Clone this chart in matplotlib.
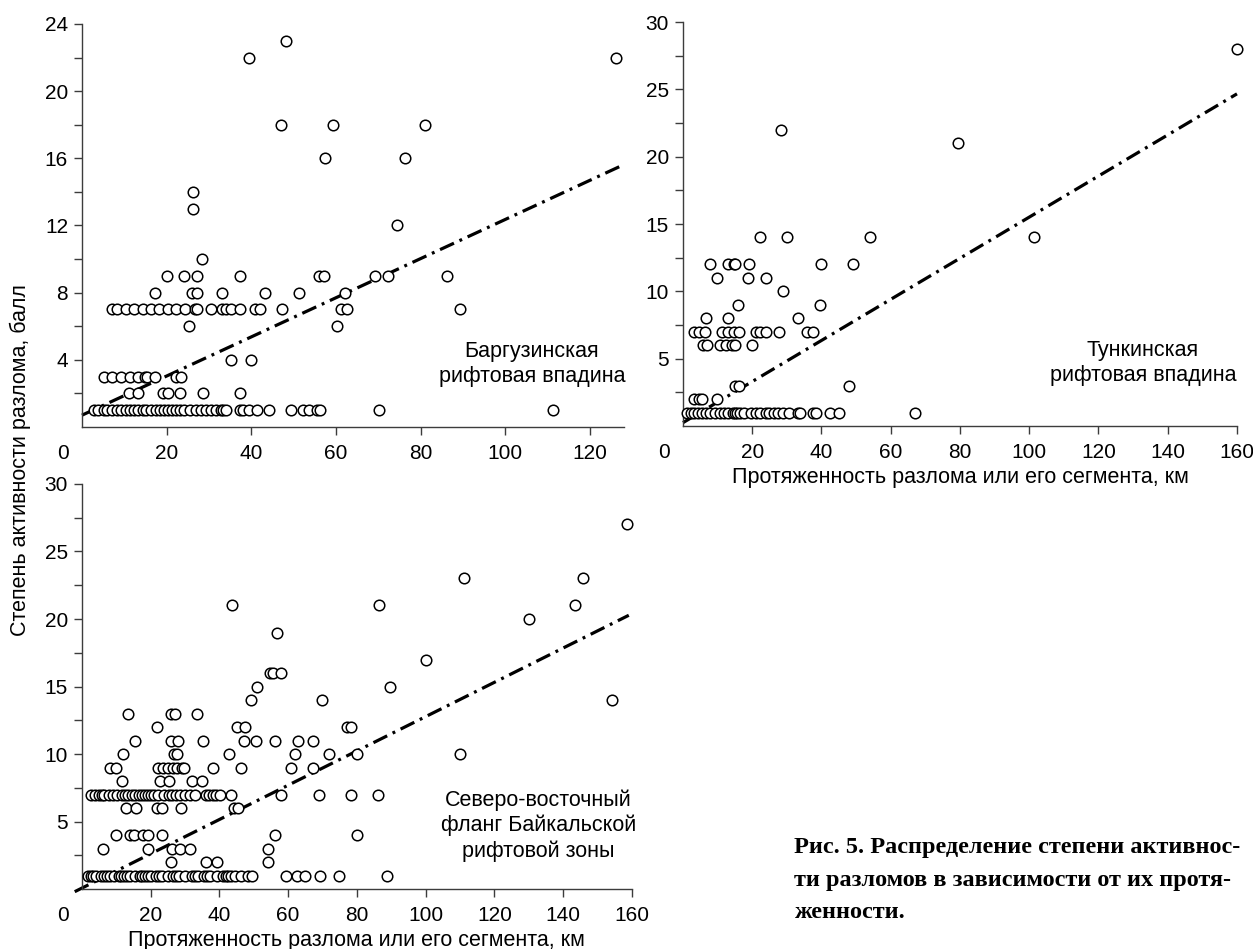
import matplotlib
matplotlib.use("Agg")
import matplotlib.pyplot as plt
from matplotlib.ticker import FixedLocator

plt.rcParams['font.family'] = ['Liberation Sans', 'DejaVu Sans']

# Баргузинская рифтовая впадина: length (km) / activity score
barg_len = [2.8, 3.9, 5.1, 6.0, 7.2, 8.2, 9.3, 10.4, 11.3, 12.3, 13.3, 14.3, 15.2, 16.4, 17.4,
            18.5, 19.3, 20.3, 21.2, 22.1, 23.1, 24.0, 25.4, 27.0, 28.1, 29.2, 30.4, 31.7, 32.8,
            33.3, 34.1, 37.3, 38.0, 39.4, 41.4, 44.1, 49.3, 52.3, 53.6, 55.6, 56.3, 70.2, 111.2,
            11.1, 13.3, 19.2, 20.3, 23.1, 28.5, 37.3,
            5.2, 7.2, 9.3, 11.4, 13.3, 14.8, 15.4, 17.3, 22.1, 23.3,
            35.2, 39.9,
            25.2, 60.2,
            7.2, 8.2, 10.4, 12.3, 14.3, 16.4, 18.2, 20.3, 22.1, 24.3, 26.6, 27.2, 30.4, 33.1,
            33.9, 35.2, 37.3, 40.9, 42.0, 47.2, 61.2, 62.6, 89.2,
            17.3, 26.1, 27.2, 33.1, 43.3, 51.3, 62.2,
            20.2, 24.1, 27.2, 37.3, 55.9, 57.2, 69.3, 72.2, 86.3,
            28.3, 74.3, 26.3, 26.3, 57.5, 76.3, 47.0, 59.3, 81.0, 39.4, 126.0, 48.3]
barg_act = [1, 1, 1, 1, 1, 1, 1, 1, 1, 1, 1, 1, 1, 1, 1,
            1, 1, 1, 1, 1, 1, 1, 1, 1, 1, 1, 1, 1, 1,
            1, 1, 1, 1, 1, 1, 1, 1, 1, 1, 1, 1, 1, 1,
            2, 2, 2, 2, 2, 2, 2,
            3, 3, 3, 3, 3, 3, 3, 3, 3, 3,
            4, 4,
            6, 6,
            7, 7, 7, 7, 7, 7, 7, 7, 7, 7, 7, 7, 7, 7,
            7, 7, 7, 7, 7, 7, 7, 7, 7,
            8, 8, 8, 8, 8, 8, 8,
            9, 9, 9, 9, 9, 9, 9, 9, 9,
            10, 12, 13, 14, 16, 16, 18, 18, 18, 22, 22, 23]
barg_fit = [0.7, 0.1166]   # intercept, slope
barg_fit_x = [0, 127.8]

# Тункинская рифтовая впадина
tunk_len = [1.1, 2.2, 3.3, 4.4, 5.5, 6.6, 7.9, 9.2, 10.7, 11.8, 12.9, 14.3, 15.0, 15.7, 16.6,
            17.7, 19.5, 21.0, 22.2, 24.0, 24.8, 26.2, 27.3, 28.9, 30.6, 33.1, 33.9, 37.5, 38.3,
            42.5, 45.0, 66.9,
            3.2, 4.6, 5.5, 9.8,
            15.1, 16.2, 48.0,
            5.7, 6.8, 10.7, 12.4, 14.1, 15.1, 19.8,
            3.2, 4.6, 6.3, 11.3, 12.9, 14.6, 16.2, 21.0, 22.3, 24.0, 27.8, 35.9, 37.5,
            6.5, 13.0, 33.1,
            15.9, 39.7,
            28.9,
            9.8, 18.9, 24.1,
            7.7, 12.9, 14.6, 15.1, 19.0, 40.0, 49.2,
            22.1, 30.0, 53.9, 101.4,
            79.4, 28.3, 160.0]
tunk_act = [1, 1, 1, 1, 1, 1, 1, 1, 1, 1, 1, 1, 1, 1, 1,
            1, 1, 1, 1, 1, 1, 1, 1, 1, 1, 1, 1, 1, 1,
            1, 1, 1,
            2, 2, 2, 2,
            3, 3, 3,
            6, 6, 6, 6, 6, 6, 6,
            7, 7, 7, 7, 7, 7, 7, 7, 7, 7, 7, 7, 7,
            8, 8, 8,
            9, 9,
            10,
            11, 11, 11,
            12, 12, 12, 12, 12, 12, 12,
            14, 14, 14, 14,
            21, 22, 28]
tunk_fit = [0.25, 0.1526]
tunk_fit_x = [0, 160]

# Северо-восточный фланг Байкальской рифтовой зоны
ne_len = [1.8, 2.5, 3.1, 4.0, 5.5, 6.3, 7.4, 8.3, 9.2, 10.7, 11.5, 12.3, 13.2, 14.1, 15.3,
          16.8, 17.6, 18.4, 19.2, 20.0, 21.5, 22.4, 23.3, 24.9, 26.6, 27.4, 28.2, 30.1, 31.9,
          32.8, 33.7, 35.6, 36.4, 37.2, 39.3, 40.9, 41.8, 42.6, 43.5, 44.5, 46.3, 48.2, 49.4,
          59.5, 62.7, 65.0, 69.3, 74.8, 88.7,
          25.8, 36.2, 39.3, 54.2,
          6.1, 19.3, 26.1, 28.6, 31.3, 54.2,
          9.8, 13.9, 15.1, 17.8, 19.3, 23.3, 56.2, 80.0,
          12.9, 15.6, 21.7, 23.3, 28.8, 44.2, 45.4,
          2.5, 3.7, 4.9, 5.7, 6.5, 8.0, 9.0, 10.2, 11.7, 12.5, 13.3, 14.7, 15.5, 16.6, 17.5,
          18.4, 19.2, 20.0, 21.0, 22.1, 23.9, 25.2, 26.2, 27.4, 28.5, 30.1, 31.5, 32.8, 36.2,
          37.0, 38.0, 39.0, 40.1, 43.3, 58.0, 69.1, 78.4, 86.0,
          11.7, 22.7, 25.2, 31.9, 35.0,
          8.2, 9.9, 22.1, 23.6, 24.9, 26.4, 27.6, 29.1, 29.7, 38.0, 46.3, 60.7, 67.2,
          11.9, 26.7, 27.6, 42.9, 62.0, 71.8, 80.1, 110.1,
          15.3, 25.8, 27.9, 35.3, 47.2, 50.6, 56.1, 62.9, 67.1,
          21.8, 45.0, 47.5, 77.1, 78.3,
          13.5, 25.8, 27.0, 33.5,
          49.1, 69.9, 154.2,
          50.9, 89.6,
          54.6, 55.6, 57.8,
          100.2, 56.7, 130.1,
          43.8, 86.5, 143.4,
          111.3, 145.9, 158.5]
ne_act = [1, 1, 1, 1, 1, 1, 1, 1, 1, 1, 1, 1, 1, 1, 1,
          1, 1, 1, 1, 1, 1, 1, 1, 1, 1, 1, 1, 1, 1,
          1, 1, 1, 1, 1, 1, 1, 1, 1, 1, 1, 1, 1, 1,
          1, 1, 1, 1, 1, 1,
          2, 2, 2, 2,
          3, 3, 3, 3, 3, 3,
          4, 4, 4, 4, 4, 4, 4, 4,
          6, 6, 6, 6, 6, 6, 6,
          7, 7, 7, 7, 7, 7, 7, 7, 7, 7, 7, 7, 7, 7, 7,
          7, 7, 7, 7, 7, 7, 7, 7, 7, 7, 7, 7, 7, 7,
          7, 7, 7, 7, 7, 7, 7, 7, 7,
          8, 8, 8, 8, 8,
          9, 9, 9, 9, 9, 9, 9, 9, 9, 9, 9, 9, 9,
          10, 10, 10, 10, 10, 10, 10, 10,
          11, 11, 11, 11, 11, 11, 11, 11, 11,
          12, 12, 12, 12, 12,
          13, 13, 13, 13,
          14, 14, 14,
          15, 15,
          16, 16, 16,
          17, 19, 20,
          21, 21, 21,
          23, 23, 27]
ne_fit = [0.07, 0.127]
ne_fit_x = [-2.1, 159.1]

xlabel = 'Протяженность разлома или его сегмента, км'
ylabel = 'Степень активности разлома, балл'
caption = ('Рис. 5. Распределение степени активнос-\n'
           'ти разломов в зависимости от их протя-\n'
           'женности.')

AXC = '#3c3c3c'
FS = 15
FS_TXT = 15.5


def panel(ax, xs, ys, fit, fit_x, xmax, xticks, ymax, ymajor, yminor, name):
    ax.plot(xs, ys, 'o', ms=7.6, mfc='white', mec='black', mew=1.1, clip_on=False, zorder=3)
    fx = [fit_x[0], fit_x[1]]
    fy = [fit[0] + fit[1] * fit_x[0], fit[0] + fit[1] * fit_x[1]]
    ax.plot(fx, fy, color='black', lw=2.3, ls=(0, (4.8, 1.9, 0.9, 1.9)),
            clip_on=False, zorder=2)
    ax.set_xlim(0, xmax)
    ax.set_ylim(0, ymax)
    for s in ['top', 'right']:
        ax.spines[s].set_visible(False)
    for s in ['left', 'bottom']:
        ax.spines[s].set_color(AXC)
        ax.spines[s].set_linewidth(1.0)
    ax.set_xticks(xticks)
    ax.set_xticklabels([str(t) for t in xticks])
    ax.yaxis.set_major_locator(FixedLocator(ymajor))
    ax.set_yticklabels([('%g' % t) for t in ymajor])
    ax.yaxis.set_minor_locator(FixedLocator(yminor))
    ax.tick_params(which='both', direction='out', length=6, width=1.0, color=AXC,
                   labelsize=FS, pad=4)
    ax.tick_params(axis='x', pad=6)
    ax.annotate('0', xy=(0, 0), xycoords='axes fraction', xytext=(-14, -12),
                textcoords='offset points', ha='center', va='top', fontsize=FS)
    ax.text(0.83, 0.157, name, transform=ax.transAxes, ha='center', va='center',
            fontsize=FS_TXT, linespacing=1.25)


fig = plt.figure(figsize=(12.53, 9.49), dpi=100)

ax1 = fig.add_axes([0.0654, 0.5501, 0.4326, 0.4247])
panel(ax1, barg_len, barg_act, barg_fit, barg_fit_x, 128, [20, 40, 60, 80, 100, 120],
      24, [4, 8, 12, 16, 20, 24], [2, 6, 10, 14, 18, 22],
      'Баргузинская\nрифтовая впадина')

ax2 = fig.add_axes([0.5451, 0.5511, 0.4421, 0.4257])
panel(ax2, tunk_len, tunk_act, tunk_fit, tunk_fit_x, 160, [20, 40, 60, 80, 100, 120, 140, 160],
      30, [5, 10, 15, 20, 25, 30], [2.5, 7.5, 12.5, 17.5, 22.5, 27.5],
      'Тункинская\nрифтовая впадина')
ax2.set_xlabel(xlabel, fontsize=FS_TXT, labelpad=4)

ax3 = fig.add_axes([0.0654, 0.0632, 0.4389, 0.4268])
panel(ax3, ne_len, ne_act, ne_fit, ne_fit_x, 160, [20, 40, 60, 80, 100, 120, 140, 160],
      30, [5, 10, 15, 20, 25, 30], [2.5, 7.5, 12.5, 17.5, 22.5, 27.5],
      'Северо-восточный\nфланг Байкальской\nрифтовой зоны')
ax3.set_xlabel(xlabel, fontsize=FS_TXT, labelpad=4)

fig.text(0.016, 0.515, ylabel, rotation=90, ha='center', va='center', fontsize=FS_TXT)

fig.text(0.634, 0.118, caption, ha='left', va='top', fontsize=17.5, fontweight='bold',
         family=['Liberation Serif', 'DejaVu Serif'], linespacing=1.72)

fig.savefig('out.png', dpi=100)
